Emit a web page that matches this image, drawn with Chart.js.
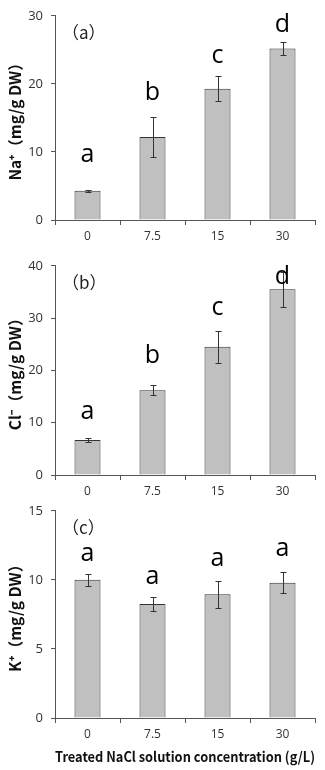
<!DOCTYPE html>
<html>
<head>
<meta charset="utf-8">
<script src="https://cdn.jsdelivr.net/npm/chart.js@4"></script>
<style>
  body { margin: 0; background: #fff; }
  .panel { position: absolute; left: 0; }
</style>
</head>
<body>
<div class="panel" style="top:0px"><canvas id="chartNa" width="325" height="250"></canvas></div>
<div class="panel" style="top:250px"><canvas id="chartCl" width="325" height="255"></canvas></div>
<div class="panel" style="top:495px"><canvas id="chartK" width="325" height="275"></canvas></div>
<script>
// veriler
const categories = ['0', '7.5', '15', '30'];

const naValues = [4.3, 12.2, 19.3, 25.2];
const naErrors = [0.15, 2.9, 1.85, 0.95];
const naLetters = ['a', 'b', 'c', 'd'];
const naLetterY = [8.5, 17.7, 23.1, 27.6];

const clValues = [6.7, 16.2, 24.5, 35.5];
const clErrors = [0.35, 0.95, 3.0, 3.4];
const clLetters = ['a', 'b', 'c', 'd'];
const clLetterY = [10.7, 21.5, 30.6, 36.6];

const kValues = [10.0, 8.25, 8.95, 9.8];
const kErrors = [0.45, 0.48, 1.0, 0.75];
const kLetters = ['a', 'a', 'a', 'a'];
const kLetterY = [11.4, 9.7, 11.0, 11.75];

const axisColor = '#555';
const textColor = '#333';
const cjk = "'Noto Sans CJK SC', sans-serif";

// hata çubukları, harfler ve panel etiketi
const extrasPlugin = {
  id: 'extras',
  afterDatasetsDraw(chart, args, opts) {
    const c = chart.ctx;
    const y = chart.scales.y;
    const meta = chart.getDatasetMeta(0);
    c.save();
    meta.data.forEach((bar, i) => {
      const v = chart.data.datasets[0].data[i];
      const e = opts.errors[i];
      const x = Math.round(bar.x) + 0.5;
      const top = Math.round(y.getPixelForValue(v + e)) + 0.5;
      const bot = Math.round(y.getPixelForValue(v - e)) + 0.5;
      c.strokeStyle = '#333';
      c.lineWidth = 1;
      c.beginPath();
      c.moveTo(x, top); c.lineTo(x, bot);
      c.moveTo(x - 3, top); c.lineTo(x + 3, top);
      c.moveTo(x - 3, bot); c.lineTo(x + 3, bot);
      c.stroke();

      c.fillStyle = '#000';
      c.font = "25px 'Open Sans', sans-serif";
      c.textAlign = 'center';
      c.textBaseline = 'alphabetic';
      c.fillText(opts.letters[i], bar.x, y.getPixelForValue(opts.letterY[i]));
    });
    // (a) (b) (c)
    c.font = "17px " + cjk;
    c.textAlign = 'left';
    c.textBaseline = 'middle';
    c.fillStyle = '#222';
    c.fillText(opts.panel, chart.chartArea.left + 7, chart.chartArea.top + 17);
    c.restore();
  }
};

function makeChart(id, values, errors, letters, letterY, panel, yTitle, yMax, yStep, padTop, xHeight, xTitle) {
  const ctx = document.getElementById(id).getContext('2d');
  return new Chart(ctx, {
    type: 'bar',
    data: {
      labels: categories,
      datasets: [{
        data: values,
        backgroundColor: '#c0c0c0',
        borderColor: '#333',
        borderWidth: 1,
        barPercentage: 0.4,
        categoryPercentage: 1
      }]
    },
    options: {
      responsive: false,
      devicePixelRatio: 1,
      animation: false,
      layout: { padding: { top: padTop, right: 10, left: 0, bottom: 0 } },
      plugins: {
        legend: { display: false },
        tooltip: { enabled: false },
        extras: { errors: errors, letters: letters, letterY: letterY, panel: panel }
      },
      scales: {
        x: {
          grid: { display: true, drawOnChartArea: false, offset: true, tickLength: 5, color: axisColor },
          border: { color: axisColor },
          ticks: { color: textColor, padding: 4, font: { family: "'Open Sans', sans-serif", size: 12 } },
          title: {
            display: !!xTitle,
            text: xTitle || '',
            color: '#111',
            padding: { top: 2, bottom: 5 },
            font: { family: cjk, size: 14, weight: 'bold' }
          },
          afterFit: s => { s.height = xHeight; }
        },
        y: {
          min: 0,
          max: yMax,
          grid: { display: true, drawOnChartArea: false, tickLength: 4, color: axisColor },
          border: { color: axisColor },
          ticks: { stepSize: yStep, color: textColor, padding: 8, font: { family: "'Open Sans', sans-serif", size: 13 } },
          title: {
            display: true,
            text: yTitle,
            color: '#111',
            padding: { top: 6, bottom: 0 },
            font: { family: cjk, size: 15.5, weight: 'bold' }
          },
          afterFit: s => { s.width = 55; }
        }
      }
    },
    plugins: [extrasPlugin]
  });
}

makeChart('chartNa', naValues, naErrors, naLetters, naLetterY, '（a）', 'Na⁺（mg/g DW）', 30, 10, 12, 30);
makeChart('chartCl', clValues, clErrors, clLetters, clLetterY, '（b）', 'Cl⁻（mg/g DW）', 40, 10, 12, 30);
makeChart('chartK', kValues, kErrors, kLetters, kLetterY, '（c）', 'K⁺（mg/g DW）', 15, 5, 15, 52,
  'Treated NaCl solution concentration (g/L)');
</script>
</body>
</html>
